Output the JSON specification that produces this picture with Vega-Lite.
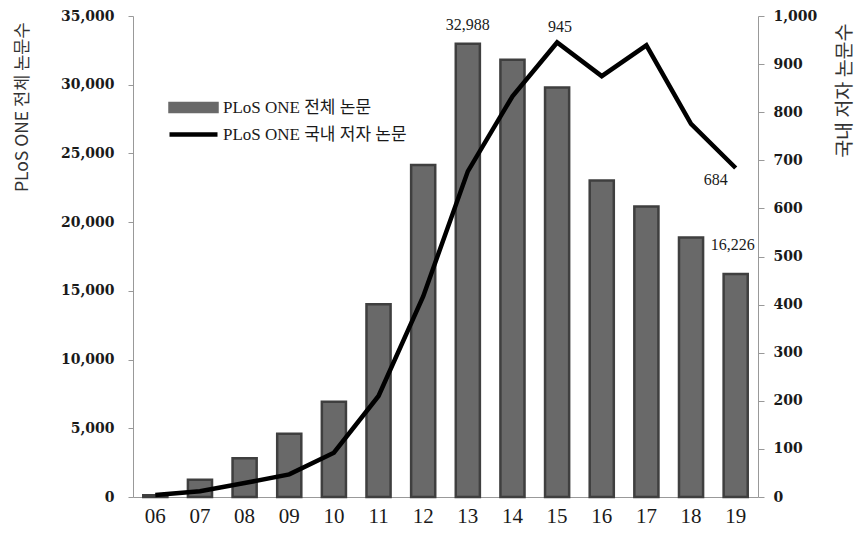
{
  "$schema": "https://vega.github.io/schema/vega-lite/v6.json",
  "width": 625,
  "height": 481,
  "autosize": {"type": "none"},
  "padding": {"left": 133, "top": 16, "right": 100, "bottom": 39},
  "background": "white",
  "config": {
    "view": {"stroke": null},
    "axis": {"grid": false, "domainColor": "#999999", "tickColor": "#999999", "labelColor": "#1a1a1a", "titleColor": "#333333"},
    "legend": {
      "orient": "none", "legendX": 52, "legendY": 83, "padding": 0,
      "symbolSize": 144, "labelOffset": 21, "rowPadding": 8,
      "labelFont": "Liberation Serif, Noto Sans CJK KR", "labelFontSize": 17, "labelColor": "#1a1a1a", "labelLimit": 400
    }
  },
  "data": {
    "values": [
      {"year": "06", "total": 130, "korea": 4},
      {"year": "07", "total": 1250, "korea": 12},
      {"year": "08", "total": 2820, "korea": 29},
      {"year": "09", "total": 4600, "korea": 47},
      {"year": "10", "total": 6930, "korea": 92},
      {"year": "11", "total": 14030, "korea": 210},
      {"year": "12", "total": 24150, "korea": 417},
      {"year": "13", "total": 32988, "korea": 677},
      {"year": "14", "total": 31820, "korea": 833},
      {"year": "15", "total": 29800, "korea": 945},
      {"year": "16", "total": 23030, "korea": 875},
      {"year": "17", "total": 21140, "korea": 939},
      {"year": "18", "total": 18890, "korea": 776},
      {"year": "19", "total": 16226, "korea": 684}
    ]
  },
  "encoding": {
    "x": {
      "field": "year", "type": "ordinal",
      "scale": {"paddingInner": 0.46, "paddingOuter": 0.23},
      "axis": {"title": null, "labelAngle": 0, "ticks": false, "labelFont": "Liberation Serif", "labelFontSize": 21, "labelPadding": 8}
    }
  },
  "layer": [
    {
      "layer": [
        {
          "mark": {"type": "bar", "stroke": "#3f3f3f", "strokeWidth": 2.5},
          "encoding": {
            "y": {"field": "total", "type": "quantitative",
              "scale": {"domain": [0, 35000], "nice": false},
              "axis": {"values": [0,5000,10000,15000,20000,25000,30000,35000], "format": ",.0f", "tickSize": 5, "labelFont": "DejaVu Serif", "labelFontWeight": "bold", "labelFontSize": 14, "labelPadding": 14,
                "title": "PLoS ONE 전체 논문수", "titleFont": "Noto Sans CJK KR", "titleFontSize": 17.5, "titleFontWeight": "normal", "titleAngle": -90, "titleX": -111, "titleY": 6, "titleAlign": "right", "titleBaseline": "middle"}},
            "color": {"datum": "PLoS ONE 전체 논문", "type": "nominal",
              "scale": {"domain": ["PLoS ONE 전체 논문", "PLoS ONE 국내 저자 논문"], "range": ["#696969", "#000000"]},
              "legend": {
                "title": null,
                "encode": {"symbols": {"update": {
                  "shape": {"signal": "datum.value === 'PLoS ONE 전체 논문' ? 'M-4,-0.75H4V0.75H-4Z' : 'M-4,0H4'"},
                  "fill": {"signal": "datum.value === 'PLoS ONE 전체 논문' ? '#696969' : 'transparent'"},
                  "stroke": {"signal": "datum.value === 'PLoS ONE 전체 논문' ? '#3f3f3f' : '#000000'"},
                  "strokeWidth": {"signal": "datum.value === 'PLoS ONE 전체 논문' ? 2.5 : 4.5"},
                  "opacity": {"value": 1}
                }}}
              }}
          }
        },
        {
          "transform": [{"filter": "datum.year === '13'"}],
          "mark": {"type": "text", "dy": -19, "font": "Liberation Serif", "fontSize": 16, "color": "#1a1a1a"},
          "encoding": {"y": {"field": "total", "type": "quantitative"}, "text": {"field": "total", "type": "quantitative", "format": ","}}
        },
        {
          "transform": [{"filter": "datum.year === '19'"}],
          "mark": {"type": "text", "dy": -29, "dx": -3, "font": "Liberation Serif", "fontSize": 16, "color": "#1a1a1a"},
          "encoding": {"y": {"field": "total", "type": "quantitative"}, "text": {"field": "total", "type": "quantitative", "format": ","}}
        }
      ]
    },
    {
      "layer": [
        {
          "mark": {"type": "line", "strokeWidth": 4.5, "strokeJoin": "miter"},
          "encoding": {
            "y": {"field": "korea", "type": "quantitative",
              "scale": {"domain": [0, 1000], "nice": false},
              "axis": {"orient": "right", "values": [0,100,200,300,400,500,600,700,800,900,1000], "format": ",.0f", "tickSize": 6, "labelFont": "DejaVu Serif", "labelFontWeight": "bold", "labelFontSize": 14, "labelPadding": 9,
                "title": "국내 저자 논문수", "titleFont": "Noto Sans CJK KR", "titleFontSize": 19.5, "titleFontWeight": "normal", "titleAngle": -90, "titleX": 86, "titleY": 7, "titleAlign": "right", "titleBaseline": "middle"}},
            "color": {"datum": "PLoS ONE 국내 저자 논문", "type": "nominal",
              "legend": {
                "title": null,
                "encode": {"symbols": {"update": {
                  "shape": {"signal": "datum.value === 'PLoS ONE 전체 논문' ? 'M-4,-0.75H4V0.75H-4Z' : 'M-4,0H4'"},
                  "fill": {"signal": "datum.value === 'PLoS ONE 전체 논문' ? '#696969' : 'transparent'"},
                  "stroke": {"signal": "datum.value === 'PLoS ONE 전체 논문' ? '#3f3f3f' : '#000000'"},
                  "strokeWidth": {"signal": "datum.value === 'PLoS ONE 전체 논문' ? 2.5 : 4.5"},
                  "opacity": {"value": 1}
                }}}
              }}
          }
        },
        {
          "transform": [{"filter": "datum.year === '15'"}],
          "mark": {"type": "text", "dy": -15, "dx": 3, "font": "Liberation Serif", "fontSize": 16, "color": "#1a1a1a"},
          "encoding": {"y": {"field": "korea", "type": "quantitative"}, "text": {"field": "korea", "type": "quantitative"}}
        },
        {
          "transform": [{"filter": "datum.year === '19'"}],
          "mark": {"type": "text", "dy": 12, "dx": -20, "font": "Liberation Serif", "fontSize": 16, "color": "#1a1a1a"},
          "encoding": {"y": {"field": "korea", "type": "quantitative"}, "text": {"field": "korea", "type": "quantitative"}}
        }
      ]
    }
  ],
  "resolve": {"scale": {"y": "independent"}}
}
